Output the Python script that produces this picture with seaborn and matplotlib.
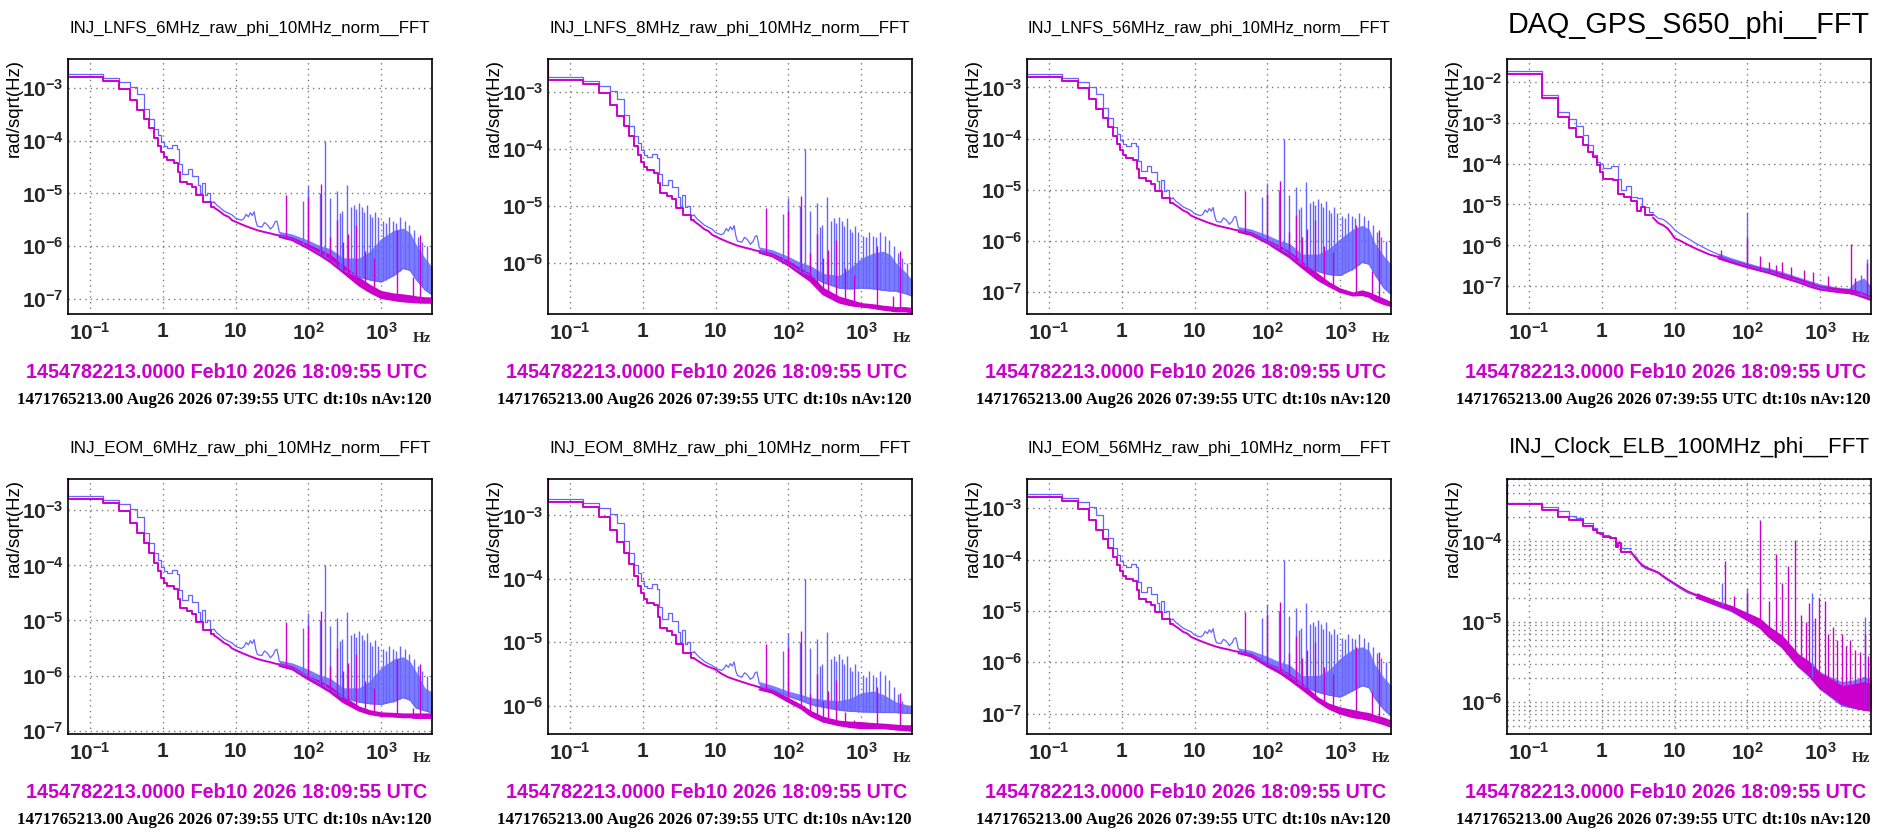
import numpy as np
import matplotlib
matplotlib.use("Agg")
import matplotlib.pyplot as plt
import seaborn as sns
from matplotlib.ticker import LogLocator, FuncFormatter, NullFormatter

BLUE = "#6666ff"
MAGENTA = "#cc00cc"

# -------------------------------
# Data
# -------------------------------
TITLES = [
    "INJ_LNFS_6MHz_raw_phi_10MHz_norm__FFT",
    "INJ_LNFS_8MHz_raw_phi_10MHz_norm__FFT",
    "INJ_LNFS_56MHz_raw_phi_10MHz_norm__FFT",
    "DAQ_GPS_S650_phi__FFT",
    "INJ_EOM_6MHz_raw_phi_10MHz_norm__FFT",
    "INJ_EOM_8MHz_raw_phi_10MHz_norm__FFT",
    "INJ_EOM_56MHz_raw_phi_10MHz_norm__FFT",
    "INJ_Clock_ELB_100MHz_phi__FFT",
]
GPS_TEXT = "1454782213.0000 Feb10 2026 18:09:55 UTC"
REF_TEXT = "1471765213.00 Aug26 2026 07:39:55 UTC dt:10s nAv:120"
Y_LABEL = "rad/sqrt(Hz)"

Y_LIMITS = [(5.2e-8, 3.5e-3), (1.26e-7, 3.8e-3), (3.7e-8, 3.6e-3), (2.1e-8, 3.6e-2),
            (8.7e-8, 3.7e-3), (3.57e-7, 3.76e-3), (4.0e-8, 3.7e-3), (4.0e-7, 6.0e-4)]

# shared low-frequency part of the LNFS / EOM channels (0.1 Hz bins)
LNFS_DC = 1e-2
LNFS_EDGES_BLUE = [0.05, 0.15, 0.25, 0.35, 0.45, 0.55, 0.65, 0.75, 0.85, 0.95, 1.05, 1.15,
                   1.35, 1.55, 1.65, 1.85, 2.25, 2.55, 3.05, 3.25, 3.45, 3.75, 4.05, 4.45, 5.05]
LNFS_STEP_BLUE = [1.85e-3, 1.55e-3, 1.3e-3, 1.04e-3, 7.5e-4, 3.9e-4, 2.57e-4, 1.68e-4, 1.25e-4,
                  9.4e-5, 7.85e-5, 7.2e-5, 8.3e-5, 7.0e-5, 3.6e-5, 2.34e-5, 2.9e-5, 2.17e-5,
                  1.45e-5, 1.0e-5, 1.55e-5, 9.5e-6, 1.0e-5, 7.0e-6]
LNFS_EDGES_MAG = [0.05, 0.15, 0.25, 0.35, 0.45, 0.55, 0.65, 0.75, 0.85, 0.95, 1.05, 1.15,
                  1.45, 1.6, 1.75, 2.15, 2.55, 2.85, 3.55, 4.55, 5.05]
LNFS_STEP_MAG = [1.62e-3, 1.36e-3, 9.6e-4, 5.9e-4, 3.8e-4, 2.53e-4, 1.7e-4, 1.11e-4, 7.85e-5,
                 6.0e-5, 4.85e-5, 4.2e-5, 3.8e-5, 2.5e-5, 1.67e-5, 1.5e-5, 1.3e-5, 9.3e-6,
                 6.8e-6, 5.6e-6]
LNFS_MID_F_BLUE = [5.05, 5.5, 6, 6.5, 7, 8, 9, 10, 12, 13, 14, 15, 16, 17, 18, 19, 20, 23, 25,
                   27, 29, 30, 33, 35, 37, 39, 40]
LNFS_MID_BLUE = [7.0e-6, 6e-6, 5.5e-6, 5e-6, 4.6e-6, 4.2e-6, 3.9e-6, 3.4e-6, 3.1e-6, 3.3e-6,
                 4.0e-6, 3.6e-6, 4.3e-6, 3.8e-6, 4.5e-6, 3.0e-6, 2.4e-6, 2.3e-6, 2.8e-6, 2.6e-6,
                 2.3e-6, 2.1e-6, 2.4e-6, 2.9e-6, 3.0e-6, 2.2e-6, 1.8e-6]
LNFS_MID_F_MAG = [5.05, 6, 7, 8, 9, 10, 12, 15, 20, 25, 30, 35, 40]
LNFS_MID_MAG = [5.4e-6, 4.6e-6, 3.9e-6, 3.6e-6, 3.1e-6, 2.9e-6, 2.6e-6, 2.3e-6, 2.0e-6,
                1.85e-6, 1.75e-6, 1.65e-6, 1.6e-6]
EOM8_MID_BLUE = [7.2e-6, 6.4e-6, 5.8e-6, 5.4e-6, 5.0e-6, 4.6e-6, 4.3e-6, 3.9e-6, 3.6e-6, 3.8e-6,
                 4.4e-6, 4.0e-6, 4.6e-6, 4.2e-6, 4.9e-6, 3.5e-6, 3.0e-6, 2.8e-6, 3.3e-6, 3.1e-6,
                 2.8e-6, 2.6e-6, 2.8e-6, 3.3e-6, 3.4e-6, 2.6e-6, 2.2e-6]
EOM8_MID_MAG = [5.6e-6, 4.9e-6, 4.4e-6, 4.1e-6, 3.9e-6, 3.7e-6, 3.2e-6, 2.8e-6, 2.5e-6,
                2.3e-6, 2.15e-6, 2.05e-6, 1.95e-6]

# noisy high-frequency band: floor (lo) and top of the dense hair (hi)
BAND_F = [40, 60, 100, 150, 200, 300, 500, 700, 1000, 1500, 2000, 2500, 3000, 4000, 5000]

LNFS6_MAG_LO = [1.5e-6, 1.3e-6, 9e-7, 6.5e-7, 5e-7, 3.2e-7, 1.8e-7, 1.35e-7, 1.05e-7, 9.5e-8, 9e-8, 8.8e-8, 8.6e-8, 8.5e-8, 8.5e-8]
LNFS6_MAG_HI = [1.7e-6, 1.5e-6, 1.1e-6, 8.5e-7, 7e-7, 4.5e-7, 2.6e-7, 1.9e-7, 1.45e-7, 1.3e-7, 1.25e-7, 1.2e-7, 1.15e-7, 1.1e-7, 1.1e-7]
LNFS6_BLUE_LO = [1.6e-6, 1.35e-6, 9.5e-7, 7e-7, 5.5e-7, 3.5e-7, 2.6e-7, 2.3e-7, 2.1e-7, 2.8e-7, 3.8e-7, 3.5e-7, 2.4e-7, 1.5e-7, 1.2e-7]
LNFS6_BLUE_HI = [1.9e-6, 1.7e-6, 1.3e-6, 1.0e-6, 9e-7, 6e-7, 6e-7, 8e-7, 1.4e-6, 2.0e-6, 2.2e-6, 1.8e-6, 1.1e-6, 6e-7, 4e-7]

LNFS8_MAG_LO = [1.5e-6, 1.3e-6, 9e-7, 6.2e-7, 4.8e-7, 2.8e-7, 2.0e-7, 1.8e-7, 1.7e-7, 1.6e-7, 1.5e-7, 1.45e-7, 1.4e-7, 1.4e-7, 1.35e-7]
LNFS8_MAG_HI = [1.7e-6, 1.5e-6, 1.1e-6, 8e-7, 6.5e-7, 3.7e-7, 2.6e-7, 2.3e-7, 2.0e-7, 1.9e-7, 1.8e-7, 1.75e-7, 1.7e-7, 1.7e-7, 1.65e-7]
LNFS8_BLUE_LO = [1.6e-6, 1.35e-6, 9.5e-7, 7e-7, 6e-7, 4.5e-7, 3.6e-7, 3.5e-7, 3.6e-7, 3.5e-7, 3.3e-7, 3.2e-7, 3.2e-7, 2.9e-7, 2.6e-7]
LNFS8_BLUE_HI = [1.9e-6, 1.7e-6, 1.3e-6, 1.0e-6, 9e-7, 6.5e-7, 6e-7, 8e-7, 1.2e-6, 1.5e-6, 1.6e-6, 1.4e-6, 1.0e-6, 7e-7, 5e-7]

LNFS56_MAG_LO = [1.5e-6, 1.3e-6, 9e-7, 6.2e-7, 4.8e-7, 3e-7, 1.7e-7, 1.3e-7, 1e-7, 8.5e-8, 8.7e-8, 8e-8, 6.8e-8, 5.8e-8, 5.3e-8]
LNFS56_MAG_HI = [1.7e-6, 1.5e-6, 1.05e-6, 8e-7, 6.3e-7, 4e-7, 2.3e-7, 1.6e-7, 1.2e-7, 1e-7, 1.1e-7, 1.0e-7, 9e-8, 7.5e-8, 6.5e-8]
LNFS56_BLUE_LO = [1.6e-6, 1.35e-6, 9.5e-7, 7e-7, 5.5e-7, 3.5e-7, 2.5e-7, 2.2e-7, 2.1e-7, 2.8e-7, 3.8e-7, 3.5e-7, 2.2e-7, 1.2e-7, 9e-8]
LNFS56_BLUE_HI = [1.9e-6, 1.7e-6, 1.3e-6, 1.0e-6, 9e-7, 5.5e-7, 5.5e-7, 7e-7, 1.1e-6, 1.7e-6, 2.0e-6, 1.7e-6, 9e-7, 5e-7, 3.5e-7]

EOM6_MAG_LO = [1.5e-6, 1.3e-6, 8.5e-7, 6.3e-7, 5e-7, 3.3e-7, 2.3e-7, 2.0e-7, 1.85e-7, 1.8e-7, 1.75e-7, 1.75e-7, 1.7e-7, 1.7e-7, 1.7e-7]
EOM6_MAG_HI = [1.7e-6, 1.5e-6, 1.0e-6, 8e-7, 6.5e-7, 4.3e-7, 2.8e-7, 2.4e-7, 2.2e-7, 2.15e-7, 2.1e-7, 2.1e-7, 2.1e-7, 2.1e-7, 2.1e-7]
EOM6_BLUE_LO = [1.6e-6, 1.35e-6, 9.5e-7, 7e-7, 5.5e-7, 4e-7, 3.3e-7, 3.1e-7, 3.0e-7, 3.4e-7, 4e-7, 3.6e-7, 2.6e-7, 2.3e-7, 2.1e-7]
EOM6_BLUE_HI = [1.9e-6, 1.7e-6, 1.3e-6, 1.0e-6, 9e-7, 6e-7, 6e-7, 8e-7, 1.4e-6, 2.0e-6, 2.2e-6, 1.8e-6, 1.2e-6, 6e-7, 5e-7]

EOM8_MAG_LO = [1.8e-6, 1.6e-6, 1.15e-6, 9e-7, 7e-7, 5.6e-7, 4.9e-7, 4.6e-7, 4.4e-7, 4.4e-7, 4.4e-7, 4.3e-7, 4.2e-7, 4.1e-7, 4e-7]
EOM8_MAG_HI = [2.05e-6, 1.85e-6, 1.35e-6, 1.05e-6, 8.5e-7, 6.8e-7, 5.9e-7, 5.7e-7, 5.6e-7, 5.4e-7, 5.3e-7, 5.2e-7, 5.1e-7, 5e-7, 5e-7]
EOM8_BLUE_LO = [2.0e-6, 1.8e-6, 1.4e-6, 1.2e-6, 1.05e-6, 9.5e-7, 8.5e-7, 8.2e-7, 8e-7, 7.9e-7, 7.8e-7, 7.8e-7, 7.8e-7, 7.6e-7, 7.5e-7]
EOM8_BLUE_HI = [2.4e-6, 2.1e-6, 1.7e-6, 1.5e-6, 1.35e-6, 1.25e-6, 1.2e-6, 1.3e-6, 1.6e-6, 1.7e-6, 1.5e-6, 1.3e-6, 1.15e-6, 1.05e-6, 1.0e-6]

EOM56_MAG_LO = [1.5e-6, 1.3e-6, 8.3e-7, 6.1e-7, 4.6e-7, 3e-7, 1.7e-7, 1.25e-7, 1e-7, 8.5e-8, 8e-8, 7.5e-8, 7e-8, 6.2e-8, 5.5e-8]
EOM56_MAG_HI = [1.7e-6, 1.5e-6, 1.0e-6, 7.8e-7, 6.1e-7, 4e-7, 2.1e-7, 1.6e-7, 1.35e-7, 1.2e-7, 1.1e-7, 1.05e-7, 9.5e-8, 8.5e-8, 7.5e-8]
EOM56_BLUE_LO = [1.6e-6, 1.35e-6, 9.5e-7, 7e-7, 5.5e-7, 3.5e-7, 2.6e-7, 2.3e-7, 2.1e-7, 2.8e-7, 3.5e-7, 3.2e-7, 2e-7, 1.2e-7, 9e-8]
EOM56_BLUE_HI = [1.9e-6, 1.7e-6, 1.3e-6, 1.0e-6, 9e-7, 5.5e-7, 5.5e-7, 7e-7, 1.2e-6, 1.8e-6, 2.0e-6, 1.7e-6, 9e-7, 5e-7, 3.5e-7]

# lines common to the LNFS / EOM channels
LNFS_SPIKE_F_BLUE = [84, 100, 144, 169, 198, 247, 270, 294, 340, 390, 420, 450, 490, 540, 590,
                     640, 700, 760, 820, 900, 1050, 1150, 1300, 1450, 1600, 1800, 2100, 2400,
                     2800, 3200, 3700, 4300, 4950]
LNFS_SPIKE_V_BLUE = [7.2e-6, 1.38e-5, 1e-5, 1e-4, 8e-6, 1.12e-5, 4.2e-6, 4.6e-6, 1.44e-5, 5.5e-6,
                     6e-6, 5e-6, 6.5e-6, 5.5e-6, 4.5e-6, 6e-6, 4e-6, 3.5e-6, 4.5e-6, 3.5e-6, 3e-6,
                     2.8e-6, 3.5e-6, 3e-6, 2.8e-6, 3.5e-6, 3e-6, 2.5e-6, 2e-6, 1.5e-6, 1.2e-6,
                     1e-6, 4.1e-6]
LNFS_SPIKE_F_MAG = [50, 100, 149, 198, 247, 300, 355, 452, 600, 800, 1670, 2760, 3400, 4950]
LNFS_SPIKE_V_MAG = [9.3e-6, 8.4e-6, 1.5e-5, 1.5e-6, 3.2e-6, 1.2e-6, 1.7e-6, 2.5e-6, 8e-7, 6e-7,
                    2e-6, 2.6e-7, 1.6e-6, 1e-6]

# DAQ_GPS_S650
GPS_DC = 1e-1
GPS_EDGES_BLUE = [0.05, 0.15, 0.25, 0.35, 0.45, 0.55, 0.65, 0.75, 0.85, 0.95, 1.05, 1.35, 1.65,
                  1.85, 2.15, 2.55, 3.05, 3.55, 4.45, 5.05]
GPS_STEP_BLUE = [1.86e-2, 4.8e-3, 1.78e-3, 1.22e-3, 8.2e-4, 4.9e-4, 2.8e-4, 1.6e-4, 1.1e-4,
                 9.6e-5, 7.6e-5, 8.6e-5, 4.3e-5, 2.2e-5, 2.9e-5, 1.5e-5, 1.4e-5, 8.7e-6, 6.5e-6]
GPS_EDGES_MAG = [0.05, 0.15, 0.25, 0.35, 0.45, 0.55, 0.65, 0.75, 0.85, 0.95, 1.05, 1.45, 1.65,
                 2.05, 2.55, 3.05, 3.45, 3.95, 5.05]
GPS_STEP_MAG = [1.54e-2, 4.1e-3, 1.34e-3, 7.2e-4, 4.5e-4, 2.8e-4, 1.9e-4, 1.45e-4, 9.1e-5,
                6.3e-5, 4.3e-5, 3.9e-5, 1.8e-5, 1.5e-5, 1.25e-5, 7e-6, 8.7e-6, 5.4e-6]
GPS_MID_F = [5.05, 6, 7, 8, 9, 10, 12, 15, 20, 30, 40]
GPS_MID_BLUE = [5.9e-6, 4.6e-6, 4.3e-6, 3.6e-6, 3.0e-6, 2.4e-6, 1.9e-6, 1.5e-6, 1.1e-6, 7.5e-7, 6e-7]
GPS_MID_MAG = [4.8e-6, 3.5e-6, 3.1e-6, 2.6e-6, 2.0e-6, 1.5e-6, 1.3e-6, 1.05e-6, 8.2e-7, 6e-7, 5.2e-7]
GPS_BLUE_LO = [5.5e-7, 4.3e-7, 3.1e-7, 2.6e-7, 2.3e-7, 1.8e-7, 1.35e-7, 1.1e-7, 9e-8, 7.8e-8, 7.2e-8, 7e-8, 6.6e-8, 6e-8, 5e-8]
GPS_BLUE_HI = [6.5e-7, 5e-7, 3.8e-7, 3.1e-7, 2.8e-7, 2.3e-7, 1.7e-7, 1.4e-7, 1.15e-7, 1e-7, 9.2e-8, 9e-8, 1.3e-7, 1.6e-7, 1.0e-7]
GPS_MAG_LO = [4.8e-7, 3.8e-7, 2.9e-7, 2.4e-7, 2.1e-7, 1.65e-7, 1.25e-7, 1.0e-7, 8.3e-8, 7.5e-8, 7e-8, 6.8e-8, 6.3e-8, 5.3e-8, 4.6e-8]
GPS_MAG_HI = [5.8e-7, 4.6e-7, 3.5e-7, 2.9e-7, 2.6e-7, 2.1e-7, 1.6e-7, 1.3e-7, 1.05e-7, 9.5e-8, 9e-8, 8.8e-8, 8.3e-8, 7e-8, 6e-8]
GPS_SPIKE_F_BLUE = [100, 3700, 4400]
GPS_SPIKE_V_BLUE = [6.4e-6, 1.9e-7, 4.6e-7]
GPS_SPIKE_F_MAG = [44, 100, 150, 200, 250, 300, 400, 600, 800, 1300, 2630, 3000, 4370]
GPS_SPIKE_V_MAG = [7.5e-7, 1.6e-6, 5.5e-7, 4e-7, 3.3e-7, 4e-7, 3e-7, 2.5e-7, 2.2e-7, 1.8e-7,
                   1.1e-6, 1.6e-7, 3.8e-7]

# INJ_Clock_ELB_100MHz
CLK_DC = 1e-3
CLK_EDGES_BLUE = [0.05, 0.15, 0.25, 0.35, 0.45, 0.55, 0.75, 0.85, 0.95, 1.05, 1.25, 1.55, 1.85, 2.5]
CLK_STEP_BLUE = [3.0e-4, 2.7e-4, 2.37e-4, 2.05e-4, 1.95e-4, 1.7e-4, 1.47e-4, 1.33e-4, 1.3e-4,
                 1.2e-4, 1.1e-4, 9.5e-5, 8.3e-5]
CLK_EDGES_MAG = [0.05, 0.15, 0.25, 0.35, 0.55, 0.75, 0.85, 0.95, 1.05, 1.35, 1.55, 1.65, 1.85, 2.5]
CLK_STEP_MAG = [2.95e-4, 2.5e-4, 2.0e-4, 1.87e-4, 1.57e-4, 1.4e-4, 1.27e-4, 1.25e-4, 1.13e-4,
                1.1e-4, 8.6e-5, 9.5e-5, 7.5e-5]
CLK_MID_F = [2.5, 3, 3.5, 4, 5, 6, 7, 8, 10, 12, 15, 20]
CLK_MID_BLUE = [7.2e-5, 6.4e-5, 5.0e-5, 4.6e-5, 4.3e-5, 4.0e-5, 3.6e-5, 3.3e-5, 2.9e-5, 2.6e-5, 2.3e-5, 2.1e-5]
CLK_MID_MAG = [7.5e-5, 6.0e-5, 5.2e-5, 4.8e-5, 4.4e-5, 4.1e-5, 3.7e-5, 3.4e-5, 3.0e-5, 2.7e-5, 2.4e-5, 2.15e-5]
CLK_BAND_F = [20, 40, 60, 100, 150, 200, 300, 500, 700, 1000, 1500, 2000, 3000, 4000, 5000]
CLK_BLUE_LO = [2.0e-5, 1.55e-5, 1.35e-5, 1.05e-5, 8.3e-6, 6.4e-6, 4.8e-6, 2.8e-6, 2.1e-6, 1.45e-6, 1.1e-6, 9e-7, 8.3e-7, 8e-7, 8e-7]
CLK_BLUE_HI = [2.3e-5, 1.8e-5, 1.6e-5, 1.3e-5, 1.1e-5, 8.8e-6, 6.8e-6, 4e-6, 3.3e-6, 2.4e-6, 2.0e-6, 1.8e-6, 1.9e-6, 2.1e-6, 1.9e-6]
CLK_MAG_LO = [2.0e-5, 1.6e-5, 1.4e-5, 1.05e-5, 8.5e-6, 6.5e-6, 4.9e-6, 2.8e-6, 2.2e-6, 1.5e-6, 1.15e-6, 9.5e-7, 8.5e-7, 8e-7, 7.8e-7]
CLK_MAG_HI = [2.3e-5, 1.8e-5, 1.6e-5, 1.3e-5, 1.1e-5, 8.7e-6, 6.8e-6, 4e-6, 3.2e-6, 2.3e-6, 1.9e-6, 1.6e-6, 1.7e-6, 1.8e-6, 1.7e-6]
CLK_SPIKE_F_BLUE = [45, 100, 770, 4160]
CLK_SPIKE_V_BLUE = [3e-5, 2.6e-5, 2.3e-5, 1.15e-5]
CLK_SPIKE_F_MAG = [50, 66, 100, 150, 200, 250, 300, 360, 450, 550, 650, 710, 850, 960, 1150,
                   1300, 1490, 1700, 2000, 2300, 2600, 3000, 3500, 4160, 4600]
CLK_SPIKE_V_MAG = [5.7e-5, 2.1e-5, 2.3e-5, 1.86e-4, 1.8e-5, 6.9e-5, 3e-5, 4.9e-5, 1.05e-4, 1.2e-5,
                   1e-5, 1.7e-5, 1.1e-5, 1.96e-5, 1.8e-5, 7e-6, 8.7e-6, 6e-6, 7.1e-6, 5e-6, 5.9e-6,
                   4.5e-6, 4.2e-6, 7e-6, 3.8e-6]


def lnfs_curves(blue_lo, blue_hi, mag_lo, mag_hi, mid_blue=LNFS_MID_BLUE, mid_mag=LNFS_MID_MAG):
    blue = dict(dc=LNFS_DC, edges=LNFS_EDGES_BLUE, steps=LNFS_STEP_BLUE, mid_f=LNFS_MID_F_BLUE,
                mid=mid_blue, band_f=BAND_F, lo=blue_lo, hi=blue_hi,
                spike_f=LNFS_SPIKE_F_BLUE, spike_v=LNFS_SPIKE_V_BLUE)
    mag = dict(dc=LNFS_DC, edges=LNFS_EDGES_MAG, steps=LNFS_STEP_MAG, mid_f=LNFS_MID_F_MAG,
               mid=mid_mag, band_f=BAND_F, lo=mag_lo, hi=mag_hi,
               spike_f=LNFS_SPIKE_F_MAG, spike_v=LNFS_SPIKE_V_MAG)
    return blue, mag


PANELS = [
    lnfs_curves(LNFS6_BLUE_LO, LNFS6_BLUE_HI, LNFS6_MAG_LO, LNFS6_MAG_HI),
    lnfs_curves(LNFS8_BLUE_LO, LNFS8_BLUE_HI, LNFS8_MAG_LO, LNFS8_MAG_HI),
    lnfs_curves(LNFS56_BLUE_LO, LNFS56_BLUE_HI, LNFS56_MAG_LO, LNFS56_MAG_HI),
    (dict(dc=GPS_DC, edges=GPS_EDGES_BLUE, steps=GPS_STEP_BLUE, mid_f=GPS_MID_F, mid=GPS_MID_BLUE,
          band_f=BAND_F, lo=GPS_BLUE_LO, hi=GPS_BLUE_HI,
          spike_f=GPS_SPIKE_F_BLUE, spike_v=GPS_SPIKE_V_BLUE),
     dict(dc=GPS_DC, edges=GPS_EDGES_MAG, steps=GPS_STEP_MAG, mid_f=GPS_MID_F, mid=GPS_MID_MAG,
          band_f=BAND_F, lo=GPS_MAG_LO, hi=GPS_MAG_HI,
          spike_f=GPS_SPIKE_F_MAG, spike_v=GPS_SPIKE_V_MAG)),
    lnfs_curves(EOM6_BLUE_LO, EOM6_BLUE_HI, EOM6_MAG_LO, EOM6_MAG_HI),
    lnfs_curves(EOM8_BLUE_LO, EOM8_BLUE_HI, EOM8_MAG_LO, EOM8_MAG_HI, EOM8_MID_BLUE, EOM8_MID_MAG),
    lnfs_curves(EOM56_BLUE_LO, EOM56_BLUE_HI, EOM56_MAG_LO, EOM56_MAG_HI),
    (dict(dc=CLK_DC, edges=CLK_EDGES_BLUE, steps=CLK_STEP_BLUE, mid_f=CLK_MID_F, mid=CLK_MID_BLUE,
          band_f=CLK_BAND_F, lo=CLK_BLUE_LO, hi=CLK_BLUE_HI,
          spike_f=CLK_SPIKE_F_BLUE, spike_v=CLK_SPIKE_V_BLUE),
     dict(dc=CLK_DC, edges=CLK_EDGES_MAG, steps=CLK_STEP_MAG, mid_f=CLK_MID_F, mid=CLK_MID_MAG,
          band_f=CLK_BAND_F, lo=CLK_MAG_LO, hi=CLK_MAG_HI,
          spike_f=CLK_SPIKE_F_MAG, spike_v=CLK_SPIKE_V_MAG)),
]

# -------------------------------
# Style
# -------------------------------
sns.set_theme(style="white")
plt.rcParams["font.family"] = ["Liberation Sans", "DejaVu Sans"]
plt.rcParams["mathtext.fontset"] = "custom"
plt.rcParams["mathtext.bf"] = "Liberation Sans:bold"
plt.rcParams["mathtext.rm"] = "Liberation Sans"

W, H = 1903, 839
fig = plt.figure(figsize=(W / 100, H / 100), dpi=100)
fig.patch.set_facecolor("white")

COL_LEFT = [68, 548, 1027, 1507]
ROW_TOP = [59, 479]
AX_W, AX_H = 364, 255


def x_label(v, pos):
    e = int(round(np.log10(v)))
    if e == 0:
        return r"$\mathbf{1}$"
    if e == 1:
        return r"$\mathbf{10}$"
    return r"$\mathbf{10^{%d}}$" % e


def y_label(v, pos):
    e = int(round(np.log10(v)))
    return r"$\mathbf{10^{%d}}$" % e


def draw_curve(ax, c, color, lw, band_alpha):
    xs = [c["edges"][0]] + list(c["edges"])
    ys = [c["dc"]] + list(c["steps"]) + [c["steps"][-1]]
    sns.lineplot(x=xs, y=ys, ax=ax, color=color, lw=lw, drawstyle="steps-post",
                 estimator=None, sort=False)
    sns.lineplot(x=c["mid_f"], y=c["mid"], ax=ax, color=color, lw=lw,
                 estimator=None, sort=False)
    ax.fill_between(c["band_f"], c["lo"], c["hi"], color=color, lw=0, alpha=band_alpha)
    ax.plot(c["band_f"], c["lo"], color=color, lw=lw)
    lf = np.log10(c["band_f"])
    base = 10 ** np.interp(np.log10(c["spike_f"]), lf, np.log10(c["lo"]))
    top = np.array(c["spike_v"])
    keep = top > base
    ax.vlines(np.array(c["spike_f"])[keep], base[keep], top[keep], colors=color, lw=1.0)


renderer = fig.canvas.get_renderer()

for i, (blue, mag) in enumerate(PANELS):
    row, col = divmod(i, 4)
    left, top_px = COL_LEFT[col], ROW_TOP[row]
    ax = fig.add_axes([left / W, 1 - (top_px + AX_H) / H, AX_W / W, AX_H / H])
    ax.set_xscale("log")
    ax.set_yscale("log")
    ax.set_axisbelow(True)

    draw_curve(ax, blue, BLUE, 0.9, 0.85)
    draw_curve(ax, mag, MAGENTA, 1.4, 1.0)

    ax.set_xlim(0.05, 5000)
    ax.set_ylim(*Y_LIMITS[i])

    ax.xaxis.set_major_locator(LogLocator(base=10, numticks=20))
    ax.xaxis.set_minor_locator(LogLocator(base=10, subs=np.arange(2, 10), numticks=50))
    ax.yaxis.set_major_locator(LogLocator(base=10, numticks=20))
    ax.yaxis.set_minor_locator(LogLocator(base=10, subs=np.arange(2, 10), numticks=50))
    ax.xaxis.set_major_formatter(FuncFormatter(x_label))
    ax.yaxis.set_major_formatter(FuncFormatter(y_label))
    ax.xaxis.set_minor_formatter(NullFormatter())
    ax.yaxis.set_minor_formatter(NullFormatter())
    ax.tick_params(which="both", direction="in", top=False, right=False, color="black",
                   labelsize=15)
    ax.tick_params(which="major", length=8, width=1)
    ax.tick_params(which="minor", length=4, width=1)
    ax.tick_params(axis="x", pad=6)
    ax.tick_params(axis="y", pad=3)

    grid_kw = dict(color="#7a7a7a", linestyle=(0, (1, 3)), lw=1)
    ax.grid(True, which="major", **grid_kw)
    if i == 7:
        ax.grid(True, which="minor", axis="y", **grid_kw)
    for s in ax.spines.values():
        s.set_color("black")
        s.set_linewidth(1.2)

    ax.text(-54 / AX_W, 1.0, Y_LABEL, transform=ax.transAxes, rotation=90,
            ha="center", va="top", fontsize=13.4, color="black")

    right_px = left + AX_W
    fig.text((right_px - 1) / W, 1 - (top_px + 279) / H, "Hz", ha="right", va="center",
             fontsize=11, fontweight="bold", family="Liberation Serif")

    # title fitted to the axes width
    t = fig.text((left + AX_W / 2) / W, 1 - (top_px - 26) / H, TITLES[i], ha="center",
                 va="baseline", fontsize=13, color="black")
    w = t.get_window_extent(renderer).width
    t.set_fontsize(13 * (AX_W - 3) / w)

    g = fig.text((right_px - 5) / W, 1 - (top_px + 313) / H, GPS_TEXT, ha="right",
                 va="center", fontsize=15, fontweight="bold", color=MAGENTA)
    w = g.get_window_extent(renderer).width
    g.set_fontsize(15 * 403 / w)

    r = fig.text(right_px / W, 1 - (top_px + 341) / H, REF_TEXT, ha="right", va="center",
                 fontsize=11, fontweight="bold", family="Liberation Serif", color="black")
    w = r.get_window_extent(renderer).width
    r.set_fontsize(11 * 414 / w)

fig.savefig("out.png", dpi=100, facecolor="white")
